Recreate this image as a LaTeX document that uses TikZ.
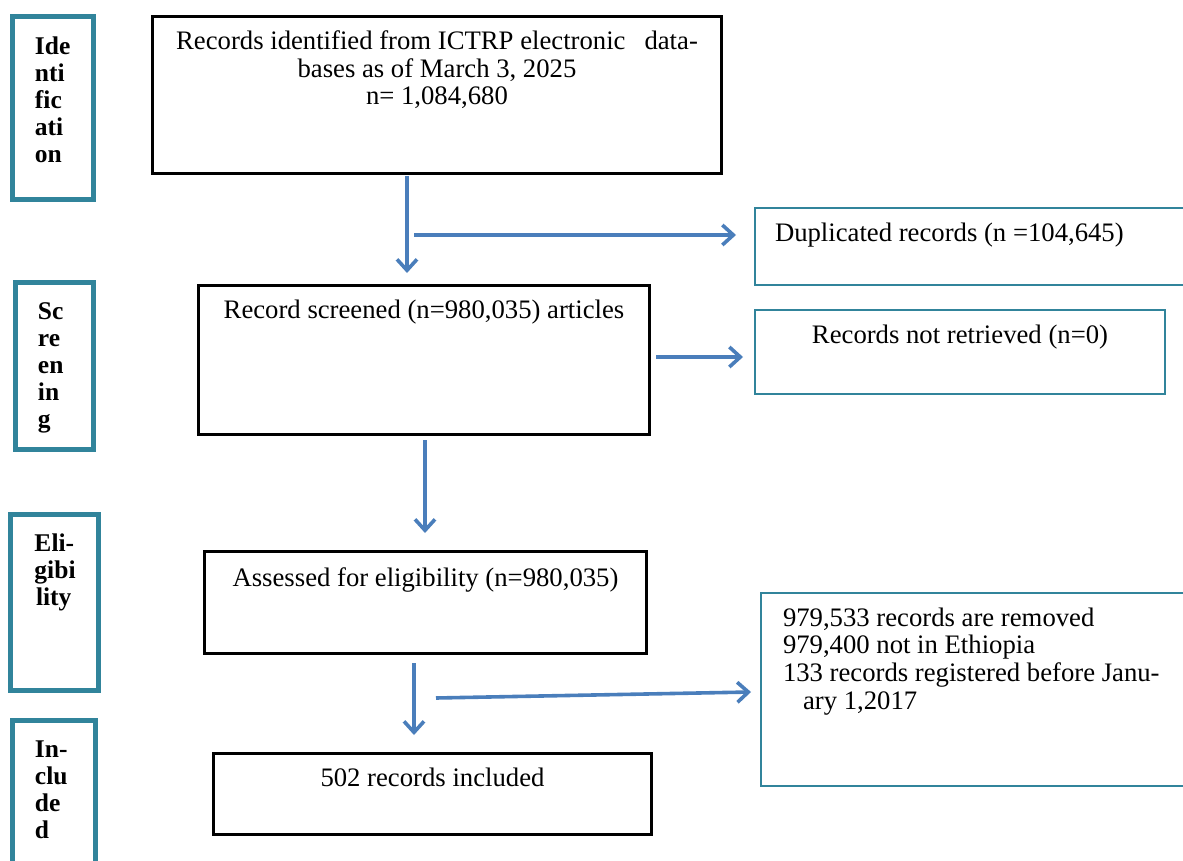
\documentclass[tikz,border=0pt]{standalone}
\usepackage{fontspec}
\setmainfont{Liberation Serif}
\usetikzlibrary{arrows.meta}
\definecolor{tealline}{HTML}{31849B}
\definecolor{arrowblue}{HTML}{4A7EBB}
\tikzset{
  mainbox/.style={draw=black, line width=2.6pt, inner sep=0pt, outer sep=0pt, anchor=north west},
  sidebox/.style={draw=tealline, line width=2.6pt, inner sep=0pt, outer sep=0pt, anchor=north west},
  stagebox/.style={draw=tealline, line width=5pt, inner sep=0pt, outer sep=0pt, anchor=north west},
  flow/.style={draw=arrowblue, line width=3.6pt, -{Straight Barb[length=11pt,width=20pt]}}
}
\newcommand\bodyfont{\fontsize{26.7pt}{27.7pt}\selectfont}
\newcommand\stagefont{\fontsize{25.5pt}{27pt}\selectfont\bfseries}
\begin{document}
\begin{tikzpicture}[x=1pt,y=-1pt]
\useasboundingbox (0,0) rectangle (1183,861);
\clip (0,0) rectangle (1183,861);

% stage labels
\node[stagebox] (L1) at (12.5,16.5) {\parbox[c][183pt][t]{81pt}{\stagefont\raggedright\leftskip=22.5pt\rule{0pt}{38pt}Ide\\nti\\fic\\ati\\on}};
\node[stagebox] (L2) at (15.5,282.5) {\parbox[c][167pt][t]{78pt}{\stagefont\raggedright\leftskip=22.5pt\rule{0pt}{37pt}Sc\\re\\en\\in\\g}};
\node[stagebox] (L3) at (10.5,514.5) {\parbox[c][176pt][t]{88pt}{\stagefont\raggedright\leftskip=24pt\rule{0pt}{37pt}Eli-\\gibi\\\hspace*{1.5pt}lity}};
\node[stagebox] (L4) at (12.5,720.5) {\parbox[c][160pt][t]{83pt}{\stagefont\raggedright\leftskip=22.5pt\rule{0pt}{37pt}In-\\clu\\de\\d}};

% main boxes
\node[mainbox] (b1) at (152.5,16.5) {\parbox[c][157pt][t]{569pt}{\bodyfont\centering\rule{0pt}{33pt}Records identified from ICTRP electronic\hspace{19pt}data-\\bases as of March 3, 2025\\n= 1,084,680}};
\node[mainbox] (b2) at (198.5,285.5) {\parbox[c][149pt][t]{451pt}{\bodyfont\centering\rule{0pt}{33pt}Record screened (n=980,035) articles}};
\node[mainbox] (b3) at (204.5,551.5) {\parbox[c][102pt][t]{442pt}{\bodyfont\centering\rule{0pt}{35pt}Assessed for eligibility (n=980,035)}};
\node[mainbox] (b4) at (213.5,753.5) {\parbox[c][81pt][t]{438pt}{\bodyfont\centering\rule{0pt}{33pt}502 records included}};

% side boxes
\node[sidebox] (s1) at (755,208) {\parbox[c][77pt][t]{440pt}{\bodyfont\raggedright\leftskip=20pt\rule{0pt}{33pt}Duplicated records (n =104,645)}};
\node[sidebox] (s2) at (755,310) {\parbox[c][84pt][t]{410pt}{\bodyfont\centering\rule{0pt}{33pt}Records not retrieved (n=0)}};
\node[sidebox] (s3) at (761,593) {\parbox[c][193pt][t]{434pt}{\bodyfont\raggedright\leftskip=22pt\rule{0pt}{33pt}979,533 records are removed\\979,400 not in Ethiopia\\133 records registered before Janu-\\\hspace*{20pt}ary 1,2017}};

% arrow end points
\coordinate (a1s) at (407,176);
\coordinate (a1e) at (407,273);
\coordinate (a2s) at (414,235);
\coordinate (a2e) at (736,235);
\coordinate (a3s) at (425,440);
\coordinate (a3e) at (425,533);
\coordinate (a4s) at (656,357);
\coordinate (a4e) at (743,357);
\coordinate (a5s) at (414,663);
\coordinate (a5e) at (414,735);
\coordinate (a6s) at (436,698);
\coordinate (a6e) at (751,692);

\draw[flow] (a1s) -- (a1e);
\draw[flow] (a2s) -- (a2e);
\draw[flow] (a3s) -- (a3e);
\draw[flow] (a4s) -- (a4e);
\draw[flow] (a5s) -- (a5e);
\draw[flow] (a6s) -- (a6e);
\end{tikzpicture}
\end{document}
